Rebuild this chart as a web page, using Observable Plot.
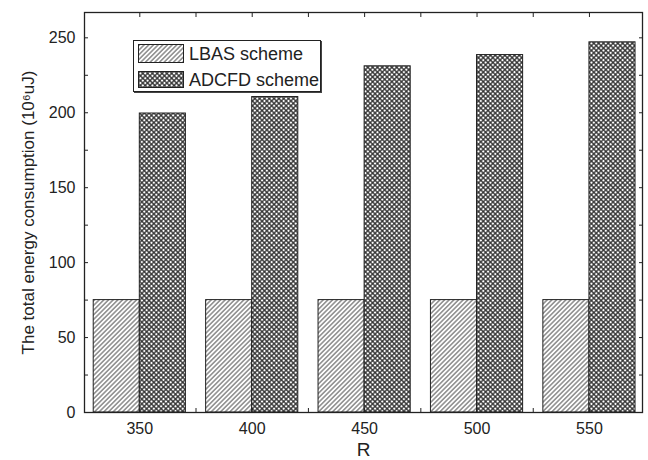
<!DOCTYPE html>
<html>
<head>
<meta charset="utf-8">
<script src="https://cdn.jsdelivr.net/npm/d3@7"></script>
<script src="https://cdn.jsdelivr.net/npm/@observablehq/plot@0.6"></script>
<style>
  html, body { margin: 0; padding: 0; background: #fff; }
  #wrap { position: relative; width: 648px; height: 460px; font-family: "Liberation Sans", Arial, sans-serif; }
  #legend { position: absolute; left: 133px; top: 40px; width: 188px; height: 52px; box-sizing: border-box;
            border: 1px solid #222; box-shadow: 1px 1px 0 #444; background: #fff; color: #222; font-size: 18px; }
  .row { position: absolute; left: 4px; display: flex; align-items: center; white-space: nowrap; }
  .row svg { display: block; }
  .row span { margin-left: 5px; line-height: 1; }
</style>
</head>
<body>
<svg width="0" height="0" style="position:absolute">
  <defs>
    <pattern id="hatch" width="3.3" height="3.3" patternUnits="userSpaceOnUse" patternTransform="rotate(45)">
      <rect width="3.3" height="3.3" fill="#fff"/>
      <line x1="1.65" y1="-1" x2="1.65" y2="5" stroke="#222" stroke-width="0.8"/>
    </pattern>
    <pattern id="cross" width="3.4" height="3.4" patternUnits="userSpaceOnUse" patternTransform="rotate(45)">
      <rect width="3.4" height="3.4" fill="#fff"/>
      <path d="M1.7,-1V5M-1,1.7H5" stroke="#2a2a2a" stroke-width="1.25"/>
    </pattern>
  </defs>
</svg>
<div id="wrap"></div>
<script>
// ---- data ----
const R = [350, 400, 450, 500, 550];
const lbasValues = [75, 75, 75, 75, 75];
const adcfdValues = [199.5, 210.5, 231, 238.5, 247];
const schemes = ["LBAS scheme", "ADCFD scheme"];
const yTickValues = [0, 25, 50, 75, 100, 125, 150, 175, 200, 225, 250];
const yLabelValues = [0, 50, 100, 150, 200, 250];
const xTickValues = [350, 375, 400, 425, 450, 475, 500, 525, 550];
const xLabelValues = [350, 400, 450, 500, 550];

// bar width in R units (each group: LBAS left of the tick, ADCFD right of it)
const barWidth = 20.5;

const lbas = R.map((r, i) => ({R: r, v: lbasValues[i]}));
const adcfd = R.map((r, i) => ({R: r, v: adcfdValues[i]}));

const ink = "#222";
const chart = Plot.plot({
  width: 648,
  height: 460,
  marginLeft: 84,
  marginRight: 6,
  marginTop: 12,
  marginBottom: 48,
  style: {fontFamily: "Liberation Sans, Arial, sans-serif", fontSize: "16px", color: ink, background: "#fff"},
  x: {domain: [325.4, 573.6]},
  y: {domain: [0, 266.9]},
  marks: [
    Plot.rectY(lbas, {x1: d => d.R - barWidth, x2: "R", y: "v", fill: "url(#hatch)", stroke: ink, strokeWidth: 1}),
    Plot.rectY(adcfd, {x1: "R", x2: d => d.R + barWidth, y: "v", fill: "url(#cross)", stroke: ink, strokeWidth: 1}),
    Plot.frame({stroke: ink, strokeWidth: 1.3}),
    // inward tick marks on all four sides
    Plot.axisY({anchor: "left", ticks: yTickValues, tickSize: 4, dx: 4, tickFormat: () => "", label: null, stroke: ink}),
    Plot.axisY({anchor: "right", ticks: yTickValues, tickSize: 4, dx: -4, tickFormat: () => "", label: null, stroke: ink}),
    Plot.axisX({anchor: "bottom", ticks: xTickValues, tickSize: 4, dy: -4, tickFormat: () => "", label: null, stroke: ink}),
    Plot.axisX({anchor: "top", ticks: xTickValues, tickSize: 4, dy: 4, tickFormat: () => "", label: null, stroke: ink}),
    // tick labels
    Plot.axisY({anchor: "left", ticks: yLabelValues, tickSize: 0, tickPadding: 9, fontSize: 16, fill: ink, label: null}),
    Plot.axisX({anchor: "bottom", ticks: xLabelValues, tickSize: 0, tickPadding: 10, fontSize: 16, fill: ink, label: null}),
    // axis titles
    Plot.axisY({anchor: "left", ticks: [], tickSize: 0, fontSize: 17, fill: ink,
      label: "The total energy consumption (10\u2076uJ)", labelAnchor: "center", labelArrow: "none", labelOffset: 63}),
    Plot.axisX({anchor: "bottom", ticks: [], tickSize: 0, fontSize: 19, fill: ink,
      label: "R", labelAnchor: "center", labelArrow: "none", labelOffset: 43})
  ]
});
const wrap = document.getElementById("wrap");
wrap.appendChild(chart);

// legend overlay inside the plot area
const legend = document.createElement("div");
legend.id = "legend";
const fills = ["url(#hatch)", "url(#cross)"];
const rowTops = [2, 28];
const swH = [19, 17];
schemes.forEach((s, i) => {
  const row = document.createElement("div");
  row.className = "row";
  row.style.top = rowTops[i] + "px";
  row.style.height = "21px";
  row.innerHTML = `<svg width="46" height="${swH[i]}"><rect x="0.5" y="0.5" width="45" height="${swH[i] - 1}" fill="${fills[i]}" stroke="${ink}"/></svg><span>${s}</span>`;
  legend.appendChild(row);
});
wrap.appendChild(legend);
</script>
</body>
</html>
